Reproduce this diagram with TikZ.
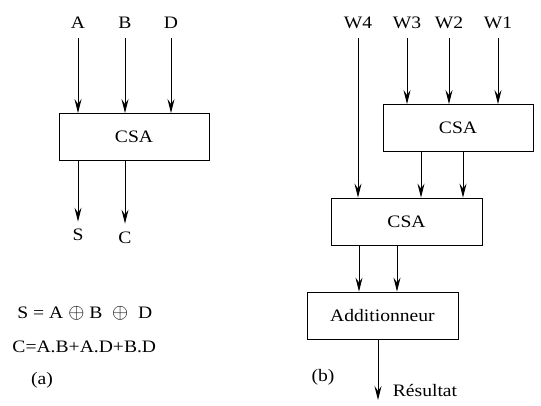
\documentclass[tikz,border=0pt]{standalone}
\usepackage{fontspec}
\setmainfont[FakeStretch=1.12]{Liberation Serif}
\usetikzlibrary{arrows.meta}

\newcommand{\xorop}{\scalebox{1.2}{$\oplus$}}

\begin{document}
\begin{tikzpicture}[x=1pt, y=-1pt, line width=0.9pt,
        font=\fontsize{17.5}{20}\selectfont,
        box/.style={draw, minimum width=150pt, minimum height=47pt, inner sep=0pt},
        sig/.style={-{Stealth[length=14pt, width=7pt, inset=5pt]}},
        lbl/.style={inner sep=0pt}]
    \useasboundingbox (0,0) rectangle (541,405);

    % (a) one carry-save adder
    \node[box] (csa) at (134,137) {CSA};
    \node[lbl] (A) at (78,23) {A};
    \node[lbl] (B) at (125,23) {B};
    \node[lbl] (D) at (171,23) {D};
    \foreach \n in {A,B,D}
        \draw[sig, shorten <=9pt] (\n.south) -- (\n.south |- csa.north);
    \node[lbl] (S) at (78,235) {S};
    \node[lbl] (C) at (125,238) {C};
    \draw[sig, shorten >=7pt] (csa.south -| S) -- (S.north);
    \draw[sig, shorten >=8pt] (csa.south -| C) -- (C.north);
    % equations
    \node[lbl, anchor=west] (eqs) at (17,313) {S = A \xorop{} B \ \xorop{} \ D};
    \node[lbl, anchor=west] (eqc) at (12,347) {C=A.B+A.D+B.D};
    \node[lbl] (capa) at (42,380) {(a)};

    % (b) tree of two CSAs and a final adder
    \node[box] (csaa) at (458,128) {CSA};
    \node[box, minimum width=151pt] (csab) at (406.5,221.5) {CSA};
    \node[box, minimum width=151pt] (add) at (382.5,315.5) {Additionneur};
    \node[lbl] (W4) at (358,23) {W4};
    \node[lbl] (W3) at (407,23) {W3};
    \node[lbl] (W2) at (449,23) {W2};
    \node[lbl] (W1) at (498,23) {W1};
    \foreach \n in {W3,W2,W1}
        \draw[sig, shorten <=9pt] (\n.south) -- (\n.south |- csaa.north);
    \draw[sig, shorten <=9pt] (W4.south) -- (W4.south |- csab.north);
    \draw[sig] ([xshift=-37pt]csaa.south) -- ([xshift=-37pt]csaa.south |- csab.north);
    \draw[sig] ([xshift=5pt]csaa.south) -- ([xshift=5pt]csaa.south |- csab.north);
    \draw[sig] ([xshift=-47.5pt]csab.south) -- ([xshift=-47.5pt]csab.south |- add.north);
    \draw[sig] ([xshift=-9.5pt]csab.south) -- ([xshift=-9.5pt]csab.south |- add.north);
    % result
    \coordinate (res) at (378,400);
    \draw[sig] (add.south -| res) -- (res);
    \node[lbl] (resl) at (425,390) {Résultat};
    \node[lbl] (capb) at (323,377) {(b)};
\end{tikzpicture}
\end{document}
